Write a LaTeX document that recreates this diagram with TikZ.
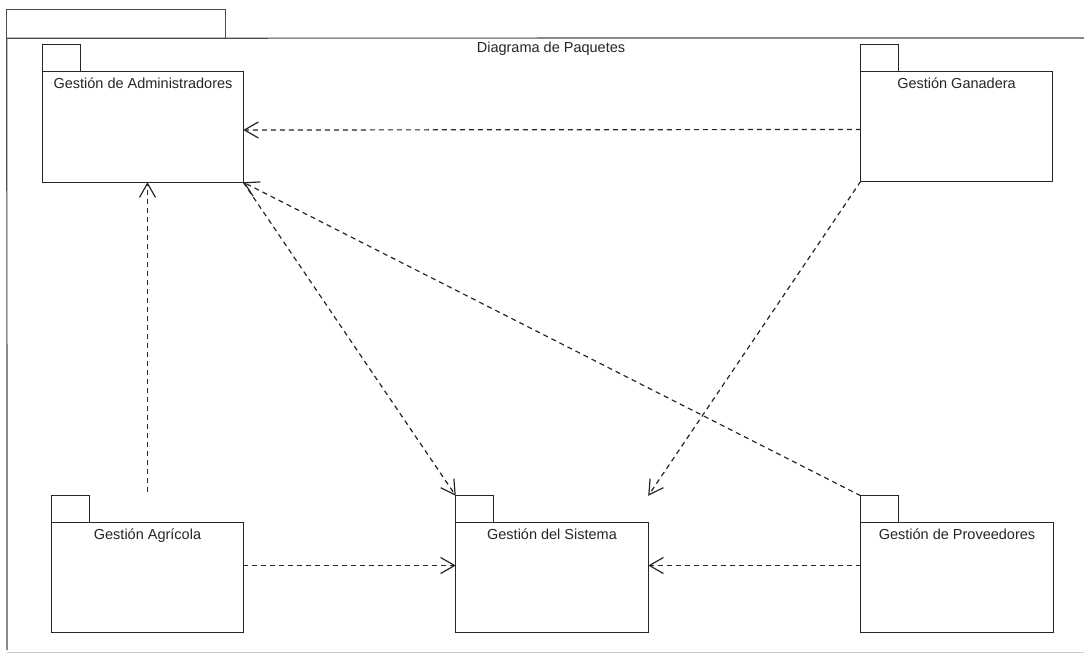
\documentclass[tikz,border=0pt]{standalone}
\usepackage{fontspec}
\setmainfont{Liberation Sans}
\usetikzlibrary{arrows.meta,fit,calc}
\tikzset{
  pkgline/.style={draw=black!85, line width=1.2pt},
  frameline/.style={draw=black!70, line width=1.2pt},
  dep/.style={draw=black!85, line width=1.2pt, dash pattern=on 5pt off 4pt,
    -{Straight Barb[length=14pt,width=16pt,line width=1.2pt]}},
  pkglabel/.style={anchor=base, inner sep=0pt, text=black!85, font=\fontsize{14.5}{17}\selectfont},
  boxfit/.style={inner sep=0pt, draw=none}
}
% #1 name, #2 x1, #3 y top of tab, #4 x2, #5 y bottom, #6 label
\newcommand\umlpkg[6]{%
  \node[boxfit, fit={(#2,#3) (#4,#5)}] (#1) {};
  \node[boxfit, fit={(#2,#3+27) (#4,#5)}] (#1b) {};
  \draw[pkgline] (#1b.south west) rectangle (#1b.north east);
  \draw[pkgline] (#1.north west) rectangle ($(#1b.north west)+(38,0)$);
  \node[pkglabel] (#1l) at ($(#1b.north)+(0,17)$) {#6};
}
\begin{document}
\begin{tikzpicture}[x=1pt,y=-1pt]
\useasboundingbox[fill=white] (0,0) rectangle (1084,658);
% outer frame
\node[boxfit, fit={(7,10) (225,38)}] (ftab) {};
\draw[frameline] (ftab.south west) rectangle (ftab.north east);
\draw[frameline] (7,650) -- (ftab.south west) -- (1084,38);
\draw[draw=black!20, line width=0.8pt] (7,652) -- (1084,652);
\node[pkglabel] (title) at (551,53) {Diagrama de Paquetes};
% packages
\umlpkg{adm}{43}{45}{243}{182}{Gestión de Administradores}
\umlpkg{gan}{861}{45}{1052}{181}{Gestión Ganadera}
\umlpkg{agr}{52}{496}{243}{632}{Gestión Agrícola}
\umlpkg{sis}{456}{496}{648}{632}{Gestión del Sistema}
\umlpkg{prov}{861}{496}{1053}{632}{Gestión de Proveedores}
% dependencies
\draw[dep] ([yshift=-3pt]ganb.west) -- ([yshift=-3pt]admb.east);
\draw[dep] (gan.south west) -- (sis.north east);
\draw[dep] (admb.south east) -- (sis.north west);
\draw[dep] (prov.north west) -- (admb.south east);
\draw[dep] ([yshift=4pt]agr.north) -- (agr.north |- admb.south);
\draw[dep] ([yshift=12pt]agrb.east) -- ([yshift=12pt]sisb.west);
\draw[dep] ([yshift=12pt]provb.west) -- ([yshift=12pt]sisb.east);
\end{tikzpicture}
\end{document}
